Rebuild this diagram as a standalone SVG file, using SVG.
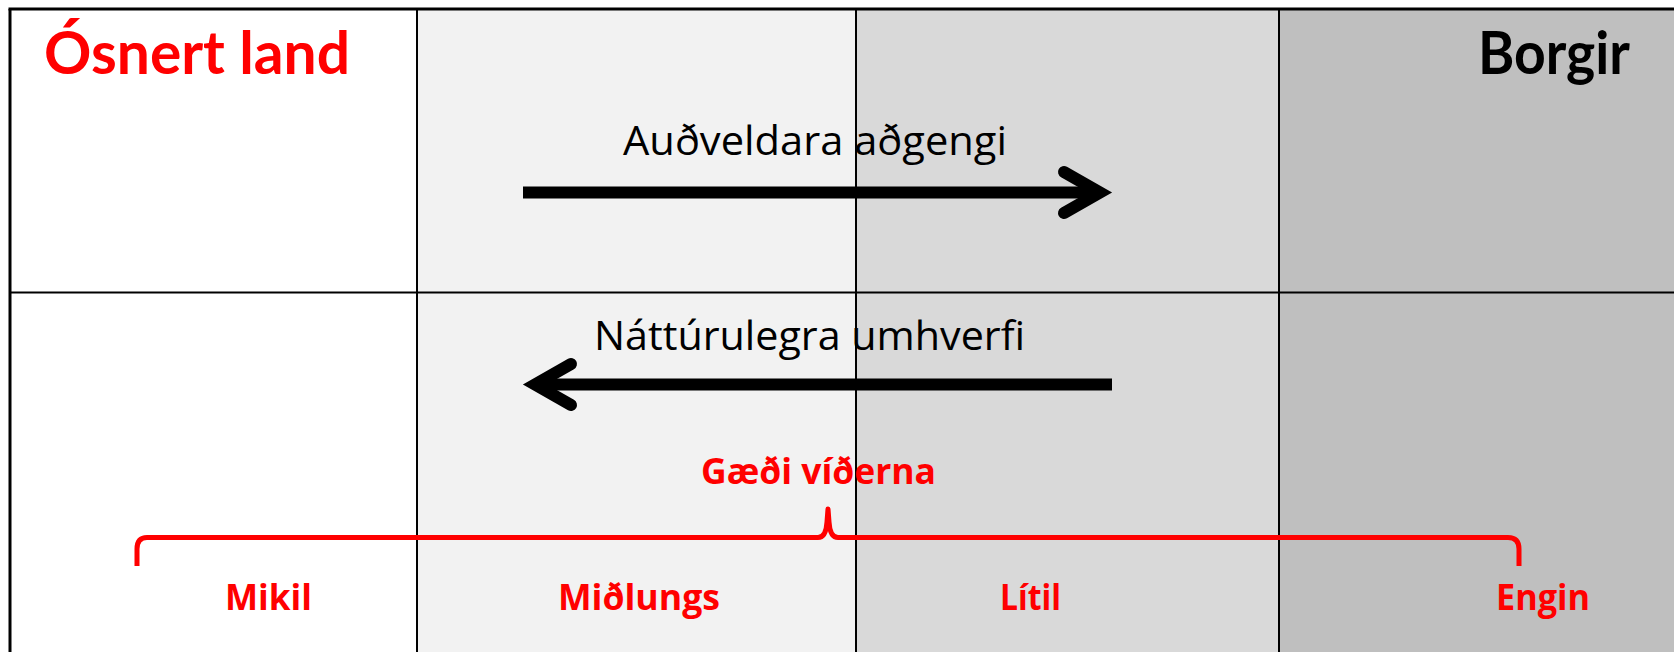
<svg xmlns="http://www.w3.org/2000/svg" width="1674" height="652" viewBox="0 0 1674 652">
<style>
.grid{stroke:#000;stroke-width:2;fill:none}
.outer{stroke:#000;stroke-width:3;fill:none}
.arr{stroke:#000;stroke-width:12;fill:none}
.head{stroke:#000;stroke-width:12;fill:none;stroke-linecap:round;stroke-linejoin:miter;stroke-miterlimit:10}
.brace{stroke:#ff0000;stroke-width:5;fill:none;stroke-linejoin:round}
.red{fill:#ff0000;font-family:"Open Sans","Liberation Sans",sans-serif;font-weight:bold}
.ttl{font-family:Lato,"Liberation Sans",sans-serif;font-weight:bold}
.blk{fill:#000;font-family:"Open Sans","Liberation Sans",sans-serif}
</style>
<rect x="0" y="0" width="1674" height="652" fill="#ffffff"/>
<g id="columns">
<rect x="10" y="9" width="407" height="643" fill="#ffffff"/>
<rect x="417" y="9" width="439" height="643" fill="#f2f2f2"/>
<rect x="856" y="9" width="423" height="643" fill="#d9d9d9"/>
<rect x="1279" y="9" width="395" height="643" fill="#bfbfbf"/>
</g>
<g id="grid">
<line class="outer" x1="8.5" y1="9" x2="1674" y2="9"/>
<line class="outer" x1="10" y1="9" x2="10" y2="652"/>
<line class="grid" x1="417" y1="9" x2="417" y2="652"/>
<line class="grid" x1="856" y1="9" x2="856" y2="652"/>
<line class="grid" x1="1279" y1="9" x2="1279" y2="652"/>
<line class="grid" x1="10" y1="292.5" x2="1674" y2="292.5"/>
</g>
<g id="title-osnert">
<text class="ttl" fill="#ff0000" x="44" y="74" font-size="60" textLength="306" lengthAdjust="spacingAndGlyphs">Ósnert land</text>
</g>
<g id="title-borgir">
<text class="ttl" fill="#000000" x="1478" y="74" font-size="60" textLength="152" lengthAdjust="spacingAndGlyphs">Borgir</text>
</g>
<g id="connectors">
<g id="arrow-access">
<line class="arr" x1="523" y1="192.5" x2="1100" y2="192.5"/>
<polyline class="head" points="1064,172 1100,192.5 1064,213"/>
</g>
<g id="arrow-nature">
<line class="arr" x1="535" y1="384.5" x2="1112" y2="384.5"/>
<polyline class="head" points="571,364 535,384.5 571,405"/>
</g>
</g>
<g id="label-access">
<text class="blk" x="623" y="155" font-size="40" textLength="384" lengthAdjust="spacingAndGlyphs">Auðveldara aðgengi</text>
</g>
<g id="label-nature">
<text class="blk" x="594" y="350" font-size="40" textLength="431" lengthAdjust="spacingAndGlyphs">Náttúrulegra umhverfi</text>
</g>
<g id="quality">
<text class="red" x="701" y="483.5" font-size="35" textLength="235" lengthAdjust="spacingAndGlyphs">Gæði víðerna</text>
<path class="brace" d="M137,566 L137,549 Q137,537.5 147,537.5 L818,537.5 Q826,537.5 827,522 L828,509 L829,522 Q830,537.5 838,537.5 L1508,537.5 Q1519,537.5 1519,549 L1519,566"/>
</g>
<g id="levels">
<text class="red" x="225" y="609.5" font-size="35" textLength="87" lengthAdjust="spacingAndGlyphs">Mikil</text>
<text class="red" x="558" y="609.5" font-size="35" textLength="162" lengthAdjust="spacingAndGlyphs">Miðlungs</text>
<text class="red" x="1000" y="609.5" font-size="35" textLength="61" lengthAdjust="spacingAndGlyphs">Lítil</text>
<text class="red" x="1496" y="609.5" font-size="35" textLength="94" lengthAdjust="spacingAndGlyphs">Engin</text>
</g>
</svg>
